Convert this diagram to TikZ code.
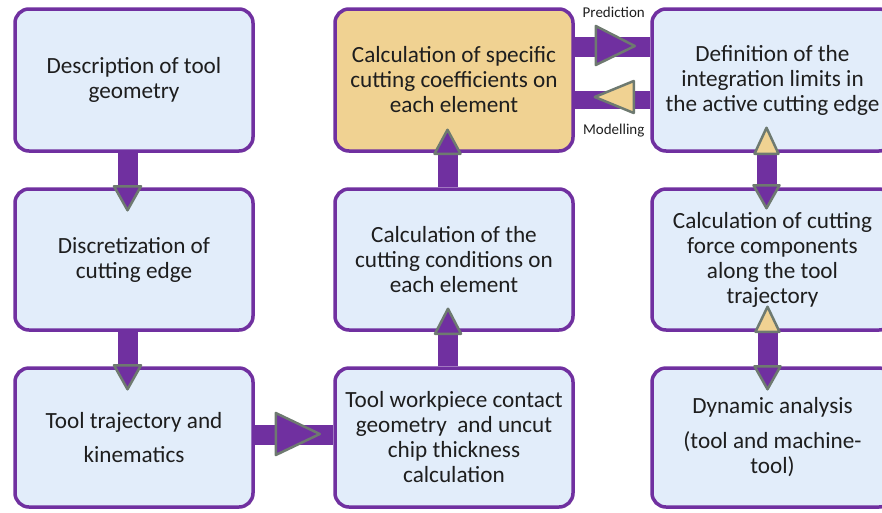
\documentclass[tikz,border=0pt]{standalone}
\usepackage{fontspec}
\setmainfont{Carlito}
\usetikzlibrary{shadows,calc}
\definecolor{pur}{HTML}{7030A0}
\definecolor{boxblue}{HTML}{E2EDFA}
\definecolor{boxgold}{HTML}{F0D292}
\definecolor{tri}{HTML}{6E7A70}
\definecolor{txt}{HTML}{1E1E1E}
\begin{document}
\begin{tikzpicture}[x=1pt,y=-1pt,
  box/.style={draw=pur, line width=3.5pt, rounded corners=14pt, fill=boxblue,
    minimum width=238pt, minimum height=142pt, inner sep=0pt, align=center,
    text=txt, font=\fontsize{23.2}{25}\selectfont,
    drop shadow={opacity=0.22, shadow xshift=1.5pt, shadow yshift=-1.5pt}},
  bar/.style={draw=pur, line width=20pt},
  head/.style={draw=tri, line width=2.5pt, line join=round, fill=pur},
  goldhead/.style={head, fill=boxgold},
  lab/.style={font=\fontsize{15}{17}\selectfont, text=txt, inner sep=0pt}]
\useasboundingbox (0,0) rectangle (882,512);
\clip (0,0) rectangle (882,512);
% boxes
\node[box] (A) at (134,80) {Description of tool\\geometry};
\node[box, minimum height=141pt] (B) at (134,259.5) {Discretization of\\cutting edge};
\node[box, minimum height=139pt] (C) at (134,437.5) {Tool trajectory and\\[9pt]kinematics};
\node[box, fill=boxgold] (D) at (454,80) {Calculation of specific\\cutting coefficients on\\each element};
\node[box, minimum height=141pt] (E) at (454,259.5) {Calculation of the\\cutting conditions on\\each element};
\node[box, minimum height=139pt] (F) at (454,437.5) {Tool workpiece contact\\geometry\ \ and uncut\\chip thickness\\calculation};
\node[box, minimum width=241pt] (G) at (772.5,80) {Definition of the\\integration limits in\\the active cutting edge};
\node[box, minimum width=241pt, minimum height=141pt] (H) at (772.5,259.5) {Calculation of cutting\\force components\\along the tool\\trajectory};
\node[box, minimum width=241pt, minimum height=139pt] (I) at (772.5,437.5) {Dynamic analysis\\[10pt](tool and machine-\\tool)};
% A -> B
\draw[bar] ($(A.south)+(-6.5,0)$) -- ($(B.north)+(-6.5,0)$);
\draw[head] ($(B.north)+(-20,-1)$) -- ($(B.north)+(7,-1)$) -- ($(B.north)+(-6.5,23)$) -- cycle;
% B -> C
\draw[bar] ($(B.south)+(-6.5,0)$) -- ($(C.north)+(-6.5,0)$);
\draw[head] ($(C.north)+(-20,-1)$) -- ($(C.north)+(7,-1)$) -- ($(C.north)+(-6.5,23)$) -- cycle;
% C -> F
\draw[bar] ($(C.east)+(0,-2.5)$) -- ($(F.west)+(0,-2.5)$);
\draw[head] ($(C.east)+(21,-24.5)$) -- ($(C.east)+(21,17.5)$) -- ($(C.east)+(65,-3.5)$) -- cycle;
% F -> E
\draw[bar] ($(F.north)+(-6,0)$) -- ($(E.south)+(-6,0)$);
\draw[head] ($(E.south)+(-19,2)$) -- ($(E.south)+(7,2)$) -- ($(E.south)+(-6,-23)$) -- cycle;
% E -> D
\draw[bar] ($(E.north)+(-6.5,0)$) -- ($(D.south)+(-6.5,0)$);
\draw[head] ($(D.south)+(-19.5,1)$) -- ($(D.south)+(6.5,1)$) -- ($(D.south)+(-6.5,-23)$) -- cycle;
% D -> G (Prediction)
\draw[bar] ($(D.east)+(0,-33)$) -- ($(G.west)+(0,-33)$);
\draw[head] ($(D.east)+(21,-54)$) -- ($(D.east)+(21,-15)$) -- ($(D.east)+(60,-34)$) -- cycle;
\node[lab] (pred) at ($(D.east)+(39,-68)$) {Prediction};
% G -> D (Modelling)
\draw[bar, line width=18pt] ($(G.west)+(0,20)$) -- ($(D.east)+(0,20)$);
\draw[goldhead] ($(D.east)+(59,1)$) -- ($(D.east)+(59,33)$) -- ($(D.east)+(20,17)$) -- cycle;
\node[lab] (model) at ($(D.east)+(39,51)$) {Modelling};
% G <-> H
\draw[bar] ($(G.south)+(-6,0)$) -- ($(H.north)+(-6,0)$);
\draw[goldhead] ($(G.south)+(-18,1)$) -- ($(G.south)+(6,1)$) -- ($(G.south)+(-6,-25)$) -- cycle;
\draw[head] ($(H.north)+(-19,-2)$) -- ($(H.north)+(7,-2)$) -- ($(H.north)+(-6,21)$) -- cycle;
% H <-> I
\draw[bar] ($(H.south)+(-5,0)$) -- ($(I.north)+(-5,0)$);
\draw[goldhead] ($(H.south)+(-17,0)$) -- ($(H.south)+(7,0)$) -- ($(H.south)+(-5,-25)$) -- cycle;
\draw[head] ($(I.north)+(-18,0)$) -- ($(I.north)+(8,0)$) -- ($(I.north)+(-5,23)$) -- cycle;
\end{tikzpicture}
\end{document}
